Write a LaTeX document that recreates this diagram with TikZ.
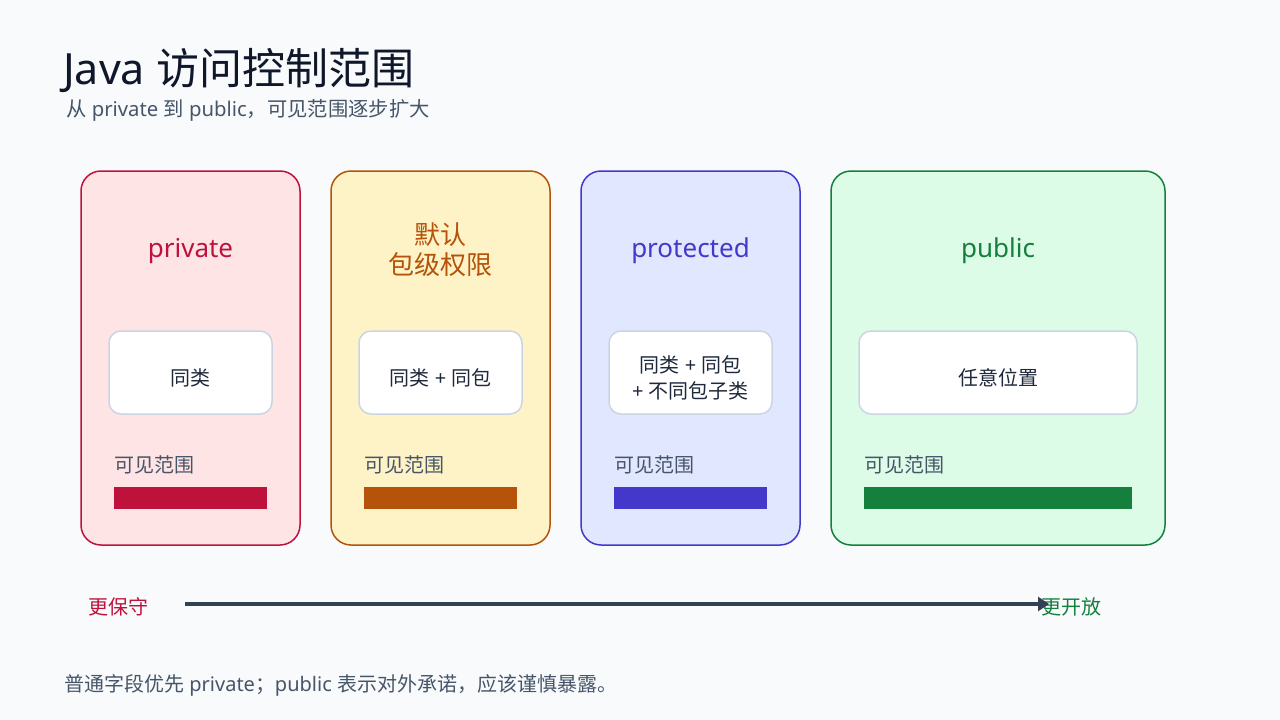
\documentclass[tikz,border=0pt]{standalone}
\usepackage{fontspec}
\setmainfont{Noto Sans CJK SC}
\newfontfamily\latinfont{Noto Sans}
\newcommand{\lat}[1]{{\latinfont #1}}
\usepackage{xcolor}
\usepackage{tikz}
\usetikzlibrary{arrows.meta,positioning,calc}
\definecolor{pagebg}{HTML}{F8FAFC}
\definecolor{ink}{HTML}{0F172A}
\definecolor{inktext}{HTML}{1E293B}
\definecolor{muted}{HTML}{475569}
\definecolor{boxline}{HTML}{CBD5E1}
\definecolor{arrowc}{HTML}{334155}
\definecolor{privline}{HTML}{BE123C}
\definecolor{privfill}{HTML}{FFE4E6}
\definecolor{pkgline}{HTML}{B45309}
\definecolor{pkgfill}{HTML}{FEF3C7}
\definecolor{protline}{HTML}{4338CA}
\definecolor{protfill}{HTML}{E0E7FF}
\definecolor{publine}{HTML}{15803D}
\definecolor{pubfill}{HTML}{DCFCE7}

\begin{document}
\begin{tikzpicture}[
  x=1pt, y=-1pt,
  node distance=31pt,
  card/.style={draw, rounded corners=20pt, line width=1.5pt, inner sep=0pt, outer sep=0pt,
               minimum width=219pt, minimum height=374pt},
  cardtitle/.style={align=center, font=\fontsize{26}{30}\selectfont},
  scopebox/.style={draw=boxline, fill=white, rounded corners=12pt, line width=1.5pt,
                   minimum width=163pt, minimum height=83pt, inner sep=0pt},
  scopetext/.style={align=center, text=inktext, font=\fontsize{20}{26}\selectfont},
  seelabel/.style={anchor=west, inner sep=0pt, text=muted, font=\fontsize{20}{24}\selectfont},
  bar/.style={anchor=north west, inner sep=0pt, minimum width=153pt, minimum height=22pt},
  endlabel/.style={anchor=west, inner sep=0pt, font=\fontsize{20}{24}\selectfont},
  arr/.style={-{Triangle[length=11pt,width=14pt]}, line width=3.5pt, draw=arrowc}
]
  \fill[pagebg] (0,0) rectangle (1280,720);
  \useasboundingbox (0,0) rectangle (1280,720);

  % heading
  \node[anchor=base west, inner sep=0pt, text=ink, font=\fontsize{43}{50}\selectfont]
    (title) at (63,84) {\lat{Java }访问控制范围};
  \node[anchor=base west, inner sep=0pt, text=muted, font=\fontsize{20.3}{24}\selectfont]
    (subtitle) at (66,116) {从\lat{ private }到\lat{ public}，可见范围逐步扩大};

  % the four levels
  \node[card, draw=privline, fill=privfill, anchor=north west] (priv) at (81,171) {};
  \node[card, draw=pkgline, fill=pkgfill, right=of priv] (pkg) {};
  \node[card, draw=protline, fill=protfill, right=of pkg] (prot) {};
  \node[card, draw=publine, fill=pubfill, right=of prot, minimum width=334pt] (pub) {};

  \node[cardtitle, text=privline] (privtitle) at ($(priv.north)+(0,80)$) {\lat{private}};
  \node[cardtitle, text=pkgline] (pkgtitle) at ($(pkg.north)+(0,79)$) {默认\\包级权限};
  \node[cardtitle, text=protline] (prottitle) at ($(prot.north)+(0,80)$) {\lat{protected}};
  \node[cardtitle, text=publine] (pubtitle) at ($(pub.north)+(0,80)$) {\lat{public}};

  \node[scopebox] (privbox) at ($(priv.north)+(0,201.5)$) {};
  \node[scopebox] (pkgbox) at ($(pkg.north)+(0,201.5)$) {};
  \node[scopebox] (protbox) at ($(prot.north)+(0,201.5)$) {};
  \node[scopebox, minimum width=278pt] (pubbox) at ($(pub.north)+(0,201.5)$) {};

  \node[scopetext] (privtxt) at ($(privbox)+(0,5)$) {同类};
  \node[scopetext] (pkgtxt) at ($(pkgbox)+(0,5)$) {同类\lat{ + }同包};
  \node[scopetext] (prottxt) at ($(protbox)+(0,5)$) {同类\lat{ + }同包\\\lat{+ }不同包子类};
  \node[scopetext] (pubtxt) at ($(pubbox)+(0,5)$) {任意位置};

  \node[seelabel] (privsee) at ($(priv.north west)+(33,294)$) {可见范围};
  \node[seelabel] (pkgsee) at ($(pkg.north west)+(33,294)$) {可见范围};
  \node[seelabel] (protsee) at ($(prot.north west)+(33,294)$) {可见范围};
  \node[seelabel] (pubsee) at ($(pub.north west)+(33,294)$) {可见范围};

  \node[bar, fill=privline] (privbar) at ($(priv.north west)+(33,316)$) {};
  \node[bar, fill=pkgline] (pkgbar) at ($(pkg.north west)+(33,316)$) {};
  \node[bar, fill=protline] (protbar) at ($(prot.north west)+(33,316)$) {};
  \node[bar, fill=publine, minimum width=268pt] (pubbar) at ($(pub.north west)+(33,316)$) {};

  % openness axis
  \node[endlabel, text=privline] (closed) at (88,607) {更保守};
  \node[endlabel, text=publine] (open) at (1041,607) {更开放};
  \coordinate (axisfrom) at (185,604);
  \coordinate (axisto) at (1049,604);
  \draw[arr] (axisfrom) -- (axisto);

  \node[anchor=west, inner sep=0pt, text=muted, font=\fontsize{20}{24}\selectfont]
    (note) at (64,685) {普通字段优先\lat{ private}；\lat{public }表示对外承诺，应该谨慎暴露。};
\end{tikzpicture}
\end{document}
